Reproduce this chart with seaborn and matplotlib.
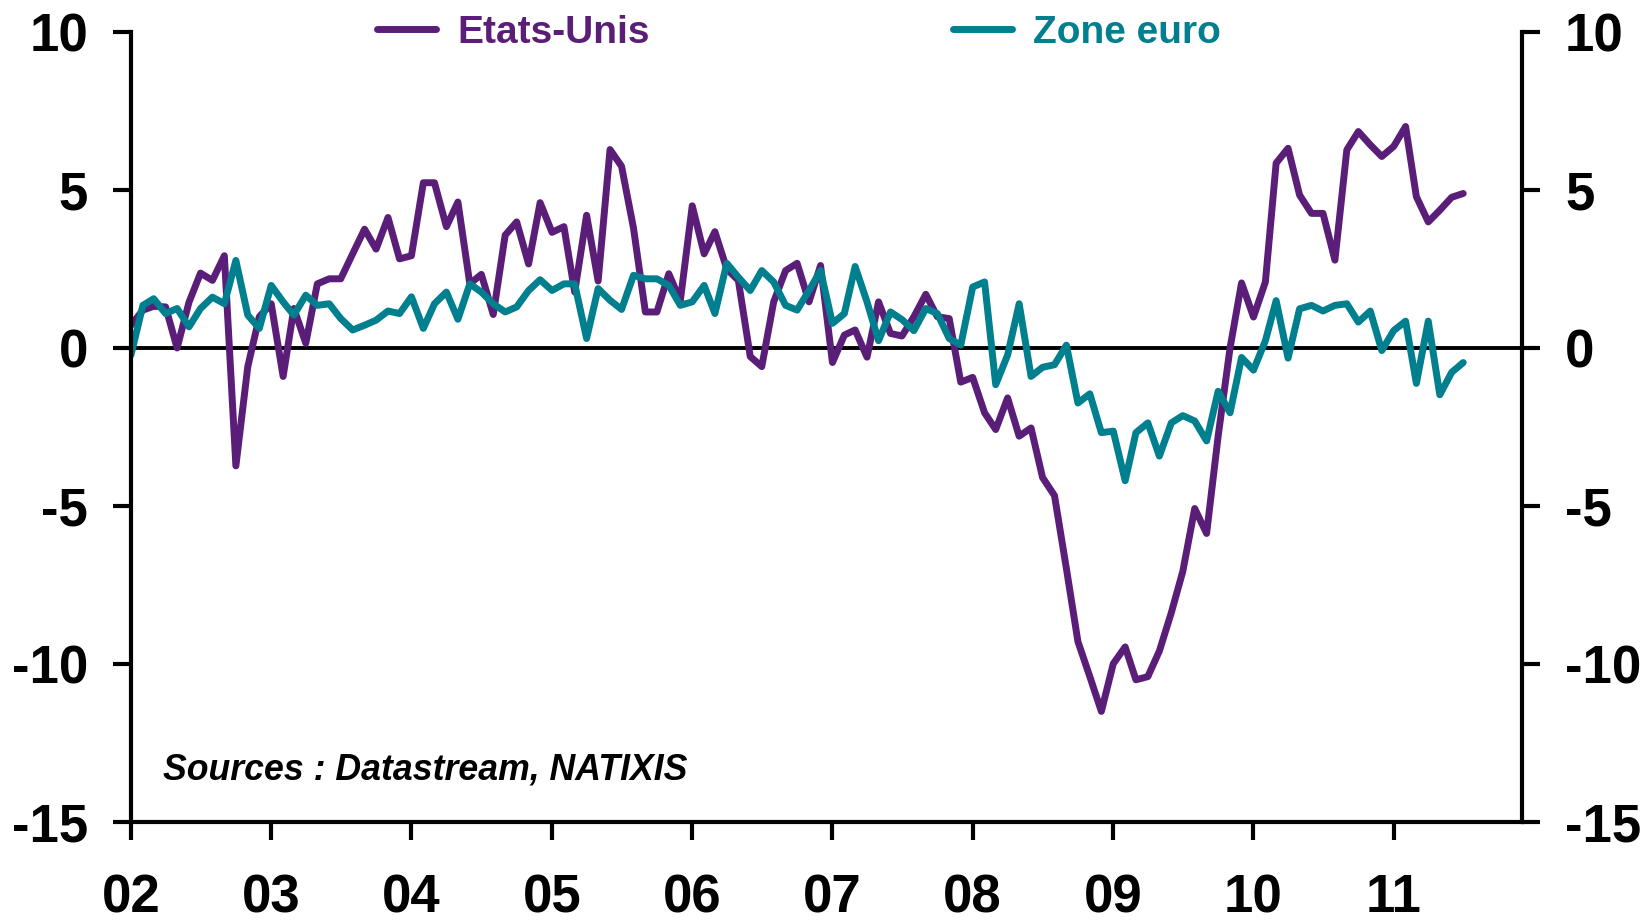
import numpy as np
import pandas as pd
import seaborn as sns
import matplotlib.pyplot as plt
import matplotlib.dates as mdates

# Données mensuelles (janv. 2002 - juil. 2011)
etats_unis = [0.72, 1.2, 1.32, 1.3, 0.0, 1.45, 2.37, 2.14, 2.92, -3.73, -0.59, 0.99,
              1.4, -0.9, 1.25, 0.15, 2.03, 2.19, 2.19, 2.98, 3.76, 3.13, 4.13, 2.82,
              2.92, 5.23, 5.23, 3.84, 4.62, 2.03, 2.33, 1.06, 3.57, 3.99, 2.66, 4.6,
              3.66, 3.84, 1.77, 4.2, 2.12, 6.28, 5.75, 3.8, 1.14, 1.14, 2.35, 1.5,
              4.5, 2.98, 3.68, 2.5, 2.14, -0.27, -0.59, 1.46, 2.45, 2.68, 1.46, 2.61,
              -0.46, 0.41, 0.57, -0.29, 1.46, 0.46, 0.38, 0.99, 1.7, 0.99, 0.93, -1.08,
              -0.93, -2.05, -2.58, -1.58, -2.79, -2.53, -4.1, -4.67, -6.98, -9.29, -10.4, -11.5,
              -9.99, -9.46, -10.5, -10.4, -9.59, -8.38, -7.07, -5.08, -5.87, -2.79, 0.0, 2.06,
              0.98, 2.09, 5.85, 6.32, 4.84, 4.26, 4.26, 2.78, 6.27, 6.85, 6.43, 6.06,
              6.38, 7.01, 4.79, 3.99, 4.36, 4.77, 4.89]

zone_euro = [-0.22, 1.35, 1.56, 1.09, 1.25, 0.67, 1.25, 1.61, 1.4, 2.77, 1.04, 0.62,
             1.98, 1.46, 1.04, 1.67, 1.35, 1.4, 0.93, 0.57, 0.72, 0.88, 1.17, 1.09,
             1.62, 0.62, 1.4, 1.77, 0.91, 2.03, 1.77, 1.4, 1.14, 1.3, 1.82, 2.16,
             1.82, 2.03, 2.03, 0.3, 1.88, 1.51, 1.22, 2.3, 2.19, 2.19, 1.98, 1.35,
             1.46, 1.98, 1.09, 2.68, 2.24, 1.82, 2.45, 2.09, 1.35, 1.2, 1.82, 2.45,
             0.78, 1.09, 2.58, 1.46, 0.23, 1.14, 0.9, 0.55, 1.25, 1.09, 0.3, 0.09,
             1.93, 2.09, -1.16, -0.22, 1.4, -0.9, -0.61, -0.53, 0.09, -1.74, -1.45, -2.68,
             -2.63, -4.2, -2.68, -2.37, -3.42, -2.37, -2.14, -2.31, -2.94, -1.37, -2.05, -0.3,
             -0.7, 0.23, 1.5, -0.32, 1.24, 1.35, 1.17, 1.35, 1.4, 0.82, 1.17, -0.08,
             0.55, 0.85, -1.12, 0.85, -1.48, -0.77, -0.46]

dates = pd.date_range("2002-01-01", periods=len(etats_unis), freq="MS")
series_names = ["Etats-Unis", "Zone euro"]
colors = ["#5A1E78", "#007F8F"]
y_ticks = [-15, -10, -5, 0, 5, 10]

df = pd.DataFrame({"date": dates, "Etats-Unis": etats_unis, "Zone euro": zone_euro})
df_long = df.melt(id_vars="date", var_name="serie", value_name="valeur")

sns.set_theme(style="white")
plt.rcParams["font.family"] = ["Liberation Sans", "DejaVu Sans"]
plt.rcParams["axes.unicode_minus"] = False

W, H = 1642, 924
fig = plt.figure(figsize=(W / 100, H / 100), dpi=100)
ax = fig.add_axes([131 / W, 1 - 822 / H, (1522 - 131) / W, (822 - 32) / H])

ax.axhline(0, color="black", lw=2.8, zorder=1)
sns.lineplot(data=df_long, x="date", y="valeur", hue="serie", hue_order=series_names,
             palette=colors, lw=5, ax=ax, legend=False, zorder=2)

ax.set_ylim(-15, 10)
ax.set_yticks(y_ticks)
ax.set_xlim(pd.Timestamp("2002-01-01"), pd.Timestamp("2011-12-01"))
ax.xaxis.set_major_locator(mdates.YearLocator())
ax.xaxis.set_major_formatter(mdates.DateFormatter("%y"))
ax.set_xlabel("")
ax.set_ylabel("")

for side in ["left", "right", "bottom"]:
    ax.spines[side].set_visible(True)
    ax.spines[side].set_color("black")
    ax.spines[side].set_linewidth(3)
ax.spines["top"].set_visible(False)

ax.tick_params(axis="y", left=True, right=True, labelleft=True, labelright=True,
               direction="out", length=13, width=3, pad=18, labelsize=38, colors="black")
ax.tick_params(axis="x", bottom=True, direction="out", length=13, width=3, pad=24,
               labelsize=38, colors="black")
for t in ax.yaxis.get_major_ticks():
    t.label1.set_fontweight("bold")
    t.label2.set_fontweight("bold")
for t in ax.xaxis.get_major_ticks():
    t.label1.set_fontweight("bold")

# légende
handles = [plt.Line2D([], [], color=c, lw=5) for c in colors]
leg = ax.legend(handles, series_names, loc="center left",
                bbox_to_anchor=(377 / W, 1 - 33 / H), bbox_transform=fig.transFigure,
                ncol=2, frameon=False, prop={"size": 28, "weight": "bold"},
                handlelength=1.52, handletextpad=0.54, columnspacing=7.8,
                borderpad=0, borderaxespad=0)
for txt, c in zip(leg.get_texts(), colors):
    txt.set_color(c)

fig.text(163 / W, 1 - 770 / H, "Sources : Datastream, NATIXIS", fontsize=25.7,
         fontweight="bold", fontstyle="italic", va="center", ha="left", color="black")

fig.savefig("out.png", dpi=100)
